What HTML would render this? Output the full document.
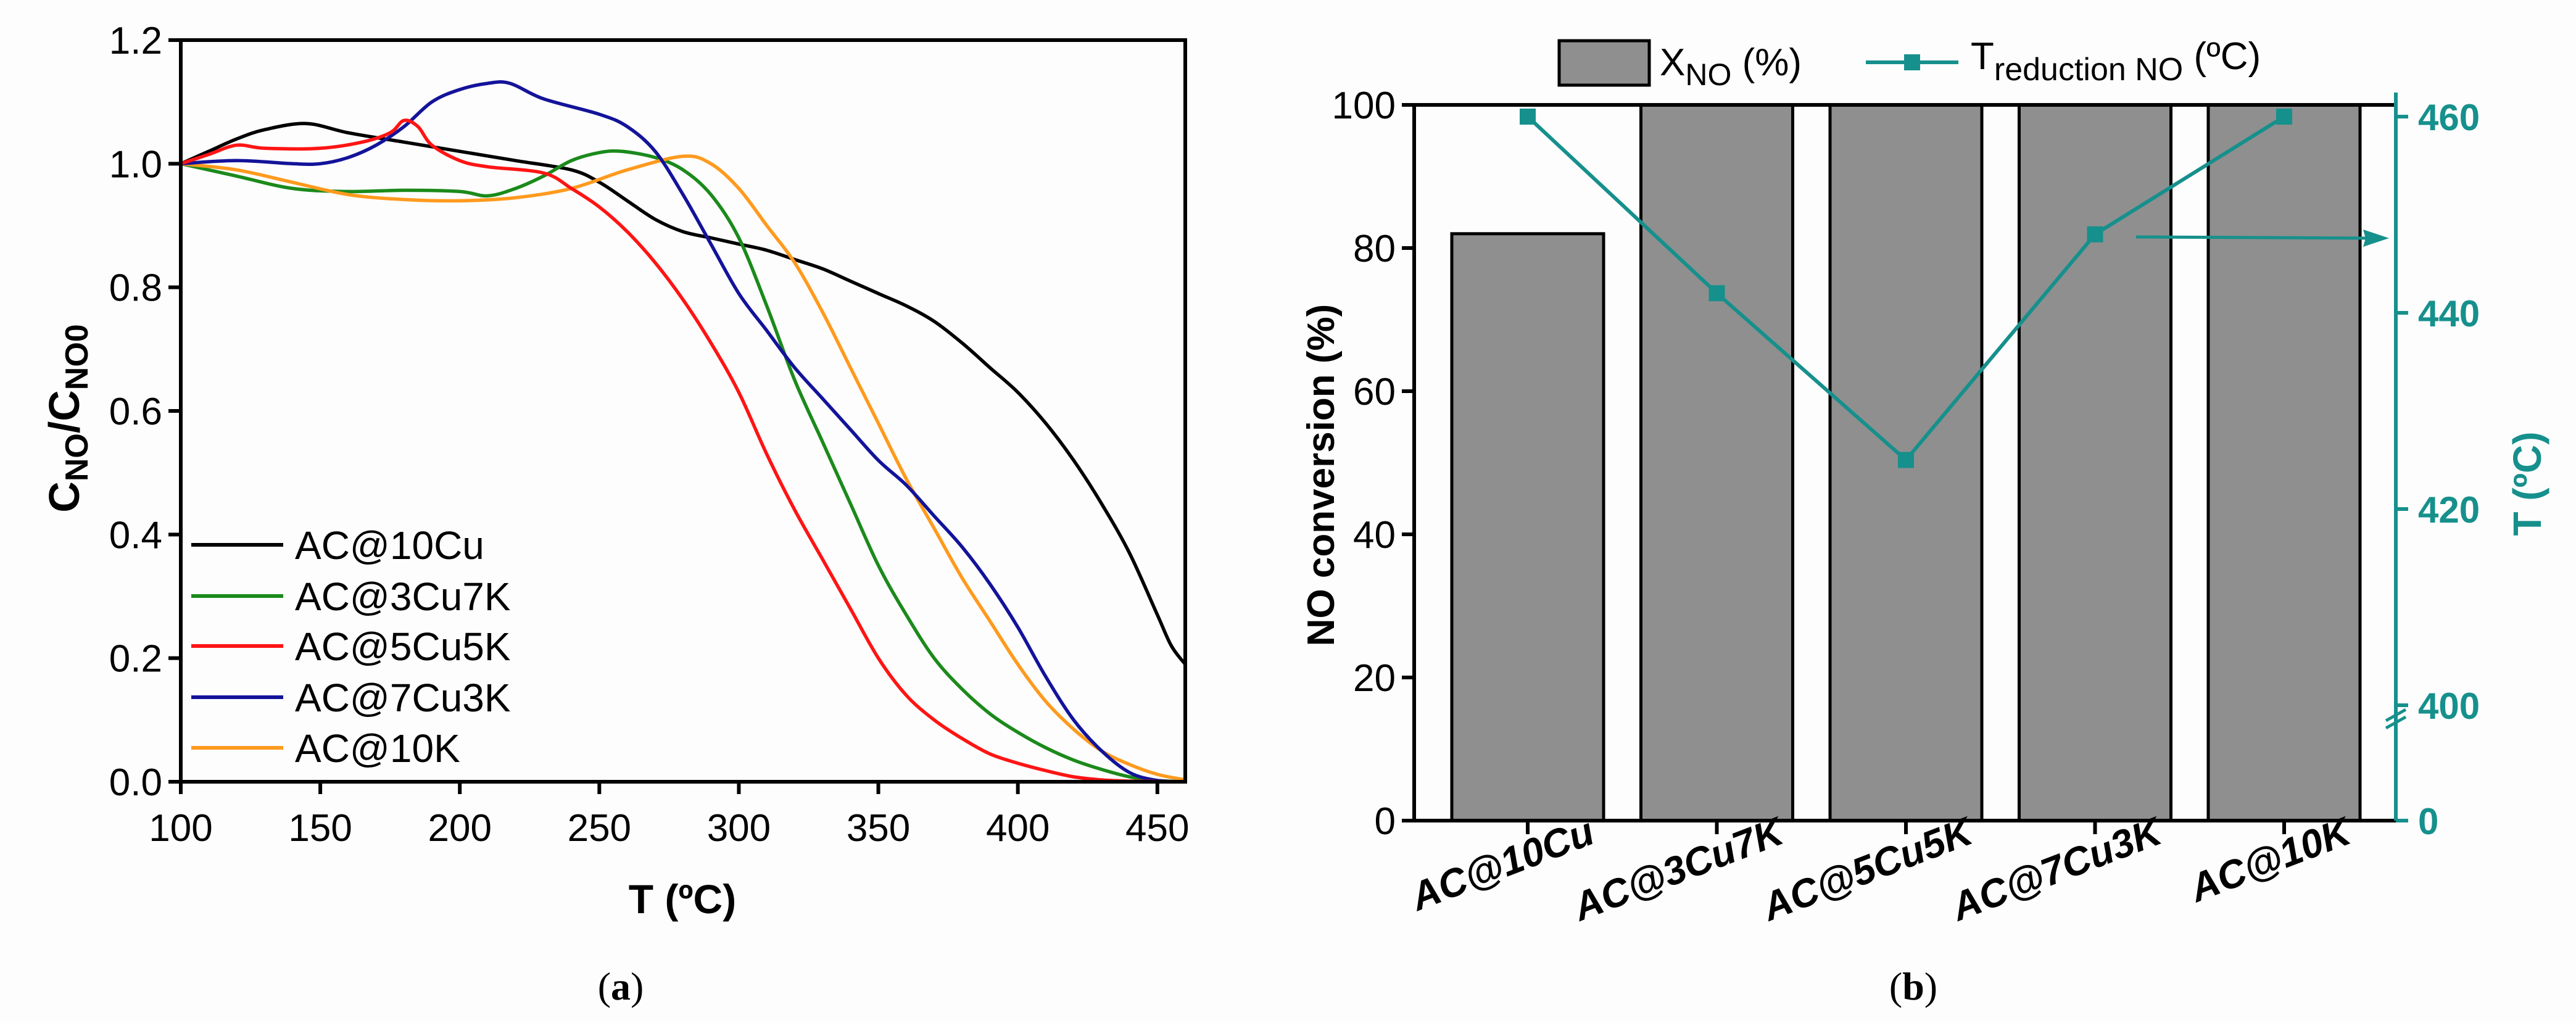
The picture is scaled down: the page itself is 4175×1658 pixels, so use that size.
<!DOCTYPE html>
<html><head><meta charset="utf-8"><style>
html,body{margin:0;padding:0;background:#fff;}
svg{display:block;font-family:"Liberation Sans",Arial,sans-serif;}
</style></head><body>
<svg id="fig" width="4175" height="1658" viewBox="0 0 4175 1658" xmlns="http://www.w3.org/2000/svg">
<rect x="0" y="0" width="4175" height="1658" fill="#fdfdfd"/>
<g id="chartA"></g>
<g id="chartB"></g>
<text x="1006" y="1620" font-family="Liberation Serif,serif" font-size="64" text-anchor="middle">(<tspan font-weight="bold">a</tspan>)</text>
<text x="3101" y="1620" font-family="Liberation Serif,serif" font-size="64" text-anchor="middle">(<tspan font-weight="bold">b</tspan>)</text>
</svg>
<script>
// ===== Chart (a) data =====
const seriesNames = ["AC@10Cu","AC@3Cu7K","AC@5Cu5K","AC@7Cu3K","AC@10K"];
const seriesColors = ["#000000","#1b8a1b","#ff1414","#13139a","#ff9a1e"];
const tCu10 = [100,110,120,130,145,160,180,200,220,240,250,260,270,280,290,300,310,320,330,340,350,360,370,380,390,400,410,420,430,440,450,455,460];
const vCu10 = [1.0,1.02,1.04,1.055,1.065,1.05,1.035,1.02,1.005,0.99,0.97,0.94,0.91,0.89,0.88,0.87,0.86,0.845,0.83,0.81,0.79,0.77,0.745,0.71,0.67,0.63,0.58,0.52,0.45,0.37,0.27,0.22,0.19];
const tCu3K7 = [100,120,140,160,180,200,210,220,230,240,250,258,270,280,290,300,310,320,330,340,350,360,370,380,390,400,410,420,430,440,450,460];
const vCu3K7 = [1.0,0.98,0.96,0.955,0.957,0.955,0.948,0.96,0.98,1.005,1.018,1.02,1.01,0.99,0.95,0.88,0.77,0.65,0.55,0.45,0.35,0.27,0.2,0.15,0.11,0.08,0.055,0.035,0.02,0.008,0.002,0.0];
const tCu5K5 = [100,110,120,130,150,165,175,180,185,190,200,210,230,240,250,260,270,280,290,300,310,320,330,340,350,360,370,380,390,400,410,420,430,440,460];
const vCu5K5 = [1.0,1.015,1.03,1.025,1.025,1.035,1.05,1.07,1.06,1.03,1.005,0.995,0.985,0.96,0.93,0.89,0.84,0.78,0.71,0.63,0.53,0.44,0.36,0.28,0.2,0.14,0.1,0.07,0.045,0.03,0.018,0.008,0.003,0.001,0.0];
const tCu7K3 = [100,120,140,150,160,170,180,190,200,210,218,230,250,260,270,280,290,300,310,320,330,340,350,360,370,380,390,400,410,420,430,440,450,460];
const vCu7K3 = [1.0,1.005,1.0,1.0,1.01,1.03,1.06,1.1,1.12,1.13,1.13,1.105,1.08,1.06,1.02,0.95,0.87,0.79,0.73,0.67,0.62,0.57,0.52,0.48,0.43,0.38,0.32,0.25,0.17,0.1,0.05,0.015,0.002,0.0];
const tK10 = [100,120,140,160,180,200,220,240,260,280,290,300,310,320,330,340,350,360,370,380,390,400,410,420,430,440,450,460];
const vK10 = [1.0,0.99,0.97,0.95,0.942,0.94,0.945,0.96,0.99,1.012,1.0,0.96,0.9,0.84,0.76,0.67,0.58,0.49,0.41,0.33,0.26,0.19,0.13,0.085,0.05,0.028,0.012,0.003];
const xTicksA = [100,150,200,250,300,350,400,450];
const yTicksA = [0.0,0.2,0.4,0.6,0.8,1.0,1.2];

// ===== Chart (b) data =====
const categories = ["AC@10Cu","AC@3Cu7K","AC@5Cu5K","AC@7Cu3K","AC@10K"];
const conversion = [82,100,100,100,100];
const tReduction = [460,442,425,448,460];
const yTicksB = [0,20,40,60,80,100];
const rTicksB = [400,420,440,460];

const NS="http://www.w3.org/2000/svg";
function mk(parent,tag,attrs,txt){const e=document.createElementNS(NS,tag);for(const k in attrs)e.setAttribute(k,attrs[k]);if(txt!==undefined)e.textContent=txt;parent.appendChild(e);return e;}
function smooth(pts){let d="M"+pts[0][0]+","+pts[0][1];for(let i=0;i<pts.length-1;i++){const p0=pts[Math.max(0,i-1)],p1=pts[i],p2=pts[i+1],p3=pts[Math.min(pts.length-1,i+2)];const c1x=p1[0]+(p2[0]-p0[0])/6,c1y=p1[1]+(p2[1]-p0[1])/6,c2x=p2[0]-(p3[0]-p1[0])/6,c2y=p2[1]-(p3[1]-p1[1])/6;d+=" C"+c1x.toFixed(1)+","+c1y.toFixed(1)+" "+c2x.toFixed(1)+","+c2y.toFixed(1)+" "+p2[0].toFixed(1)+","+p2[1].toFixed(1);}return d;}

// ---- Chart A ----
(function(){
const g=document.getElementById('chartA');
const X0=293,X1=1921,Y0=1267,Y1=65;
const xs=t=>X0+(t-100)/(460-100)*(X1-X0);
const ys=v=>Y0-(v-0)/(1.2-0)*(Y0-Y1);
const data=[[tCu10,vCu10],[tCu3K7,vCu3K7],[tCu5K5,vCu5K5],[tCu7K3,vCu7K3],[tK10,vK10]];
const order=[0,1,4,3,2];
order.forEach(i=>{
  const pts=data[i][0].map((t,j)=>[xs(t),ys(data[i][1][j])]);
  const p=mk(g,'path',{d:smooth(pts),fill:'none',stroke:seriesColors[i],'stroke-width':5.5,'stroke-linejoin':'round'});
  
  
});
const frame=mk(g,'rect',{x:X0,y:Y1,width:X1-X0,height:Y0-Y1,fill:'none',stroke:'#000','stroke-width':6});


xTicksA.forEach(t=>{
  const l=mk(g,'line',{x1:xs(t),x2:xs(t),y1:Y0,y2:Y0+20,stroke:'#000','stroke-width':6});
  
  
  const tx=mk(g,'text',{x:xs(t),y:Y0+96,'font-size':62,'text-anchor':'middle'},String(t));
  
  
});
yTicksA.forEach(v=>{
  const l=mk(g,'line',{x1:X0-20,x2:X0,y1:ys(v),y2:ys(v),stroke:'#000','stroke-width':6});
  
  
  const tx=mk(g,'text',{x:X0-30,y:ys(v)+22,'font-size':62,'text-anchor':'end'},v.toFixed(1));
  
  
});
const xt=mk(g,'text',{x:1106,y:1480,'font-size':66,'font-weight':'bold','text-anchor':'middle'},'T (ºC)');


const yt=mk(g,'text',{x:0,y:0,'font-size':70,'font-weight':'bold','text-anchor':'middle',transform:'translate(128,678) rotate(-90)'});


yt.innerHTML='C<tspan font-size="52" dy="14">NO</tspan><tspan dy="-14">/C</tspan><tspan font-size="52" dy="14">NO0</tspan>';
const rows=[883,966,1047,1130,1212];
seriesNames.forEach((n,i)=>{
  const l=mk(g,'line',{x1:310,x2:459,y1:rows[i],y2:rows[i],stroke:seriesColors[i],'stroke-width':6});
  
  
  const t=mk(g,'text',{x:478,y:rows[i]+23,'font-size':64},n);
  
  
});
})();

// ---- Chart B ----
(function(){
const g=document.getElementById('chartB');
const X0=2292,X1=3883,Y0=1330,Y1=170;
const step=(3702-2476)/4, c0=2476, bw=246;
const cx=i=>c0+i*step;
const ys=v=>Y0-v/100*(Y0-Y1);
const yr=v=>189+(460-v)/20*318;
const teal="#16908c";
conversion.forEach((v,i)=>{
  const r=mk(g,'rect',{x:cx(i)-bw/2,y:ys(v),width:bw,height:Y0-ys(v),fill:'#8f8f8f',stroke:'#000','stroke-width':5});
  
  
});
const ax=mk(g,'path',{d:`M${X0},${Y1} L${X0},${Y0} L${X1},${Y0} M${X0},${Y1} L${X1},${Y1}`,fill:'none',stroke:'#000','stroke-width':6});


const ra=mk(g,'line',{x1:X1,x2:X1,y1:150,y2:Y0,stroke:teal,'stroke-width':6});


const brk=mk(g,'path',{d:`M${X1-16},1168 L${X1+16},1150 M${X1-16},1180 L${X1+16},1162`,stroke:teal,'stroke-width':5,fill:'none'});


yTicksB.forEach(v=>{
  const l=mk(g,'line',{x1:X0-20,x2:X0,y1:ys(v),y2:ys(v),stroke:'#000','stroke-width':6});
  
  
  const t=mk(g,'text',{x:X0-30,y:ys(v)+22,'font-size':62,'text-anchor':'end'},String(v));
  
  
});
const rAll=[0].concat(rTicksB);
rAll.forEach(v=>{
  const y=v===0?Y0:yr(v);
  const l=mk(g,'line',{x1:X1,x2:X1+20,y1:y,y2:y,stroke:teal,'stroke-width':6});
  
  
  const t=mk(g,'text',{x:X1+36,y:y+22,'font-size':60,'font-weight':'bold',fill:teal},String(v));
  
  
});
categories.forEach((c,i)=>{
  const l=mk(g,'line',{x1:cx(i),x2:cx(i),y1:Y0,y2:Y0+22,stroke:'#000','stroke-width':6});
  
  
  const t=mk(g,'text',{x:0,y:0,'font-size':64,'font-weight':'bold','font-style':'italic','text-anchor':'end',transform:`translate(${cx(i)+112},1365) rotate(-21)`},c);
  
  
});
const pts=tReduction.map((v,i)=>cx(i)+","+yr(v)).join(" ");
const pl=mk(g,'polyline',{points:pts,fill:'none',stroke:teal,'stroke-width':6});


tReduction.forEach((v,i)=>{
  const m=mk(g,'rect',{x:cx(i)-13,y:yr(v)-13,width:26,height:26,fill:teal});
  
  
});
const ar=mk(g,'line',{x1:3462,x2:3845,y1:384,y2:386,stroke:teal,'stroke-width':5});


const ah=mk(g,'path',{d:'M3872,386 L3830,372 L3834,386 L3830,400 Z',fill:teal});


const yt=mk(g,'text',{x:0,y:0,'font-size':62,'font-weight':'bold','text-anchor':'middle',transform:'translate(2162,770) rotate(-90)'},'NO conversion (%)');


const rt=mk(g,'text',{x:0,y:0,'font-size':64,'font-weight':'bold','text-anchor':'middle',fill:teal,transform:'translate(4118,784) rotate(-90)'},'T (ºC)');


const lb=mk(g,'rect',{x:2527,y:66,width:146,height:72,fill:'#8f8f8f',stroke:'#000','stroke-width':5});


const lt=mk(g,'text',{x:2690,y:122,'font-size':62});


lt.innerHTML='X<tspan font-size="50" dy="16">NO</tspan><tspan dy="-16"> (%)</tspan>';
const ll=mk(g,'line',{x1:3024,x2:3174,y1:101,y2:101,stroke:teal,'stroke-width':6});


const lm=mk(g,'rect',{x:3086,y:88,width:26,height:26,fill:teal});


const lt2=mk(g,'text',{x:3194,y:112,'font-size':62});


lt2.innerHTML='T<tspan font-size="52" dy="18">reduction NO</tspan><tspan dy="-18"> (ºC)</tspan>';
})();
</script>
</body></html>
